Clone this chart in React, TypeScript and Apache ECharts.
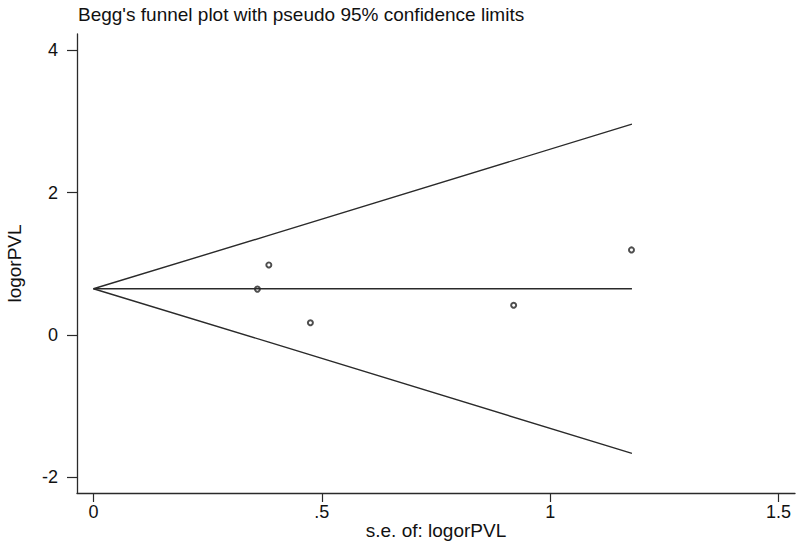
import React, { useEffect, useRef } from "react";
import * as echarts from "echarts";

const seValues = [0.359, 0.384, 0.475, 0.92, 1.178];
const effectValues = [0.645, 0.985, 0.172, 0.418, 1.196];
const pooledLine = [[0, 0.65], [1.179, 0.65]];
const upperLimit = [[0, 0.65], [0.384, 1.40], [1.179, 2.963]];
const lowerLimit = [[0, 0.65], [0.384, -0.10], [1.179, -1.664]];
const xTicks = [0, 0.5, 1, 1.5];
const xTickLabels = ["0", ".5", "1", "1.5"];
const yTicks = [-2, 0, 2, 4];

const FONT = "'Liberation Sans', Arial, sans-serif";
const LINE = "#2a2a2a";

export default function App() {
  const ref = useRef<HTMLDivElement>(null);
  useEffect(() => {
    if (!ref.current) return;
    const chart = echarts.init(ref.current, undefined, { renderer: "svg" });
    chart.setOption({
      animation: false,
      backgroundColor: "#fff",
      textStyle: { fontFamily: FONT },
      title: {
        text: "Begg's funnel plot with pseudo 95% confidence limits",
        left: 73,
        top: 0,
        textStyle: { fontFamily: FONT, fontSize: 19, fontWeight: "normal", color: "#111" },
      },
      grid: { left: 77, right: 5, top: 34, bottom: 51, containLabel: false, outerBoundsMode: "none" },
      xAxis: {
        type: "value",
        min: -0.036,
        max: 1.536,
        name: "s.e. of: logorPVL",
        nameLocation: "middle",
        nameGap: 27,
        nameMoveOverlap: false,
        nameTextStyle: { fontFamily: FONT, fontSize: 19, color: "#111", lineHeight: 20 },
        splitLine: { show: false },
        axisLine: { show: true, onZero: false, lineStyle: { color: LINE, width: 1.3 } },
        axisTick: { show: true, length: 9, customValues: xTicks, lineStyle: { color: LINE, width: 1.2 } },
        axisLabel: {
          customValues: xTicks,
          margin: 10,
          fontFamily: FONT,
          fontSize: 18,
          color: "#111",
          formatter: (v: number) => xTickLabels[xTicks.indexOf(v)] ?? String(v),
        },
      },
      yAxis: {
        type: "value",
        min: -2.22,
        max: 4.23,
        name: "logorPVL",
        nameLocation: "middle",
        nameGap: 53,
        nameMoveOverlap: false,
        nameTextStyle: { fontFamily: FONT, fontSize: 19, color: "#111" },
        splitLine: { show: false },
        axisLine: { show: true, onZero: false, lineStyle: { color: LINE, width: 1.3 } },
        axisTick: { show: true, length: 10, customValues: yTicks, lineStyle: { color: LINE, width: 1.2 } },
        axisLabel: {
          customValues: yTicks,
          margin: 19,
          fontFamily: FONT,
          fontSize: 18,
          color: "#111",
        },
      },
      series: [
        {
          type: "line",
          data: upperLimit,
          showSymbol: false,
          lineStyle: { color: LINE, width: 1.4 },
          silent: true,
        },
        {
          type: "line",
          data: lowerLimit,
          showSymbol: false,
          lineStyle: { color: LINE, width: 1.4 },
          silent: true,
        },
        {
          type: "line",
          data: pooledLine,
          showSymbol: false,
          lineStyle: { color: LINE, width: 1.4 },
          silent: true,
        },
        {
          type: "scatter",
          data: seValues.map((s, i) => [s, effectValues[i]]),
          symbol: "emptyCircle",
          symbolSize: 5,
          itemStyle: { color: "#222", borderWidth: 1 },
        },
      ],
    });
    return () => chart.dispose();
  }, []);
  return <div ref={ref} style={{ width: 800, height: 544, position: "absolute", left: 0, top: 0 }} />;
}
